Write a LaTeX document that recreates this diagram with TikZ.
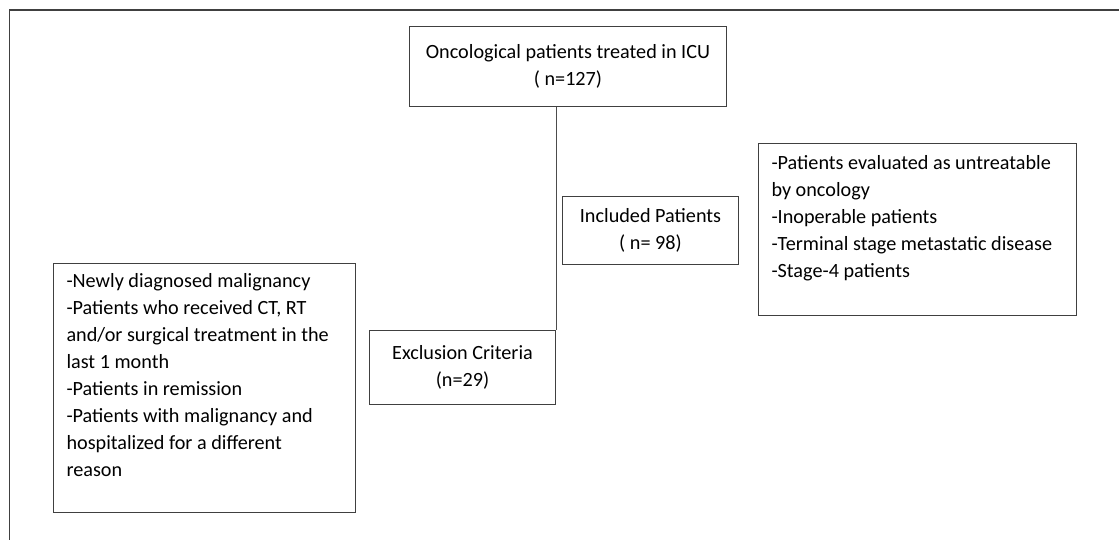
\documentclass[tikz,border=0pt]{standalone}
\usepackage{fontspec}
\setmainfont{Carlito}
\usepackage{tikz}
\usetikzlibrary{positioning, calc}

\newcommand{\boxfont}{\fontsize{20.2pt}{27pt}\selectfont}
\tikzset{
  box/.style={draw=black!75, line width=1pt, anchor=north west, inner sep=0pt, align=flush center, font=\boxfont},
  listbox/.style={box, align=flush left, inner xsep=13pt},
  link/.style={draw=black!70, line width=1pt},
}

\begin{document}
\begin{tikzpicture}[x=1pt, y=-1pt]
\useasboundingbox (0,0) rectangle (1119,540);
% frame of the page
\draw[line width=2.2pt, black!75] (9,10) -- (1119,10);
\draw[line width=1pt, black!75] (9,10) -- (9,540);

% Top box
\node[box, minimum width=317pt, minimum height=80pt] (total) at (409,26) {Oncological patients treated in ICU\\( n=127)};

% Included / excluded
\node[box, minimum width=176pt, minimum height=68pt] (incl) at (562,196) {Included Patients\\( n= 98)};
\node[box, minimum width=186pt, minimum height=74pt] (excl) at (369,330) {Exclusion Criteria\\(n=29)};

% criteria lists
\node[listbox, text width=276pt, minimum height=249pt] (exlist) at (53,263) {-Newly diagnosed malignancy\\-Patients who received CT, RT\\and/or surgical treatment in the\\last 1 month\\-Patients in remission\\-Patients with malignancy and\\hospitalized for a different\\reason\\\mbox{}};
\node[listbox, text width=292pt, minimum height=172pt] (inlist) at (758,143) {-Patients evaluated as untreatable\\by oncology\\-Inoperable patients\\-Terminal stage metastatic disease\\-Stage-4 patients\\\mbox{}};

\draw[link] (excl.north east |- total.south) -- (excl.north east);
\end{tikzpicture}
\end{document}
